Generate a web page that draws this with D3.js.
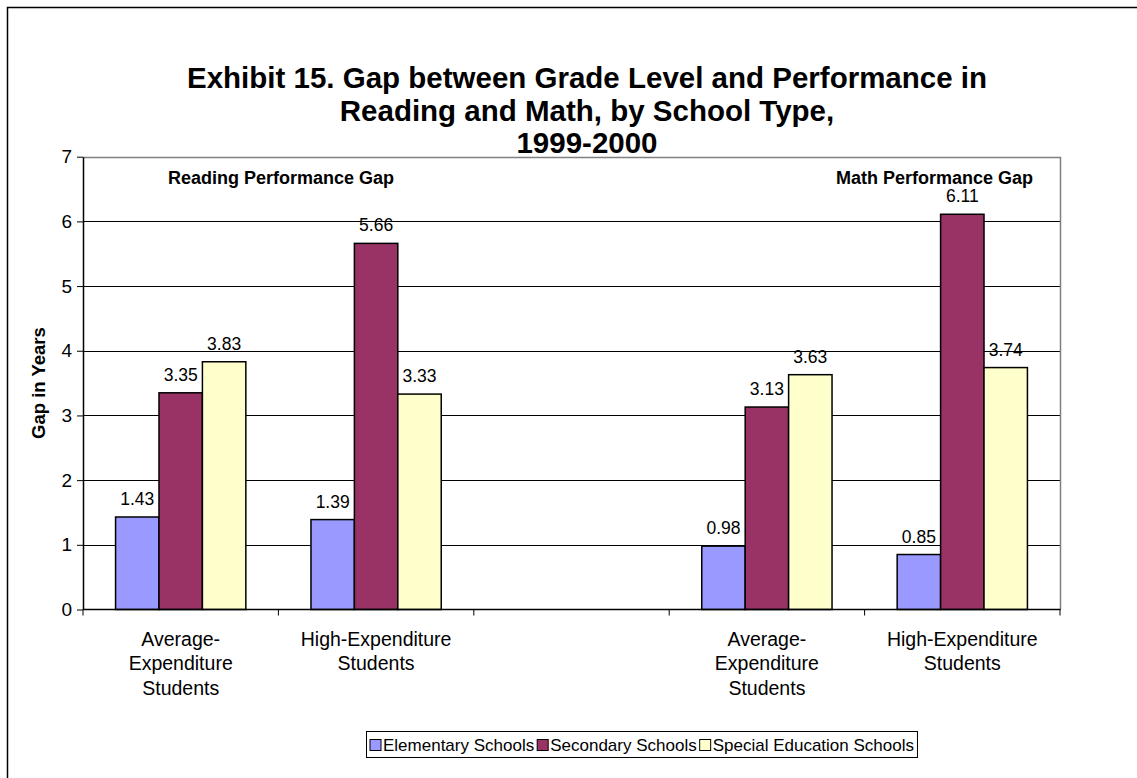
<!DOCTYPE html>
<html>
<head>
<meta charset="utf-8">
<script src="https://cdn.jsdelivr.net/npm/d3@7"></script>
<style>
  body { margin: 0; background: #fff; }
  svg { display: block; font-family: Arial, "Liberation Sans", sans-serif; }
</style>
</head>
<body>
<div id="chart"></div>
<script>
// Podatki, odčitani s slike
const slots = ["s1", "s2", "s3", "s4", "s5"];
const categoryLabels = [
  ["Average-", "Expenditure", "Students"],
  ["High-Expenditure", "Students"],
  [],
  ["Average-", "Expenditure", "Students"],
  ["High-Expenditure", "Students"]
];
const seriesNames = ["Elementary Schools", "Secondary Schools", "Special Education Schools"];
const elementary = [1.43, 1.39, null, 0.98, 0.85];
const secondary = [3.35, 5.66, null, 3.13, 6.11];
const special = [3.83, 3.33, null, 3.63, 3.74];
const yTicks = [0, 1, 2, 3, 4, 5, 6, 7];
const panelLabels = ["Reading Performance Gap", "Math Performance Gap"];
const titleLines = [
  "Exhibit 15. Gap between Grade Level and Performance in",
  "Reading and Math, by School Type,",
  "1999-2000"
];

const colors = ["#9999FF", "#993366", "#FFFFCC"];
const seriesValues = [elementary, secondary, special];

const width = 1137, height = 778;
const plot = { left: 83, right: 1060, top: 156.7, bottom: 609.5 };

const svg = d3.select("#chart").append("svg")
  .attr("width", width).attr("height", height);

// okvir grafikona
svg.append("rect")
  .attr("x", 7.5).attr("y", 7.5)
  .attr("width", width + 20).attr("height", height + 20)
  .attr("fill", "#fff").attr("stroke", "#000").attr("stroke-width", 1.5);

const x = d3.scaleBand().domain(slots).range([plot.left, plot.right]);
const x1 = d3.scaleBand().domain(seriesNames).range([0, x.bandwidth()]).paddingOuter(0.75);
const y = d3.scaleLinear().domain([0, 7]).range([plot.bottom, plot.top]);

// mreža
svg.append("g").selectAll("line")
  .data(yTicks.filter(t => t > 0 && t < 7))
  .join("line")
  .attr("x1", plot.left).attr("x2", plot.right)
  .attr("y1", d => Math.round(y(d)) + 0.5).attr("y2", d => Math.round(y(d)) + 0.5)
  .attr("stroke", "#000").attr("stroke-width", 1);

// zgornji in desni rob
svg.append("path")
  .attr("d", `M${plot.left},${Math.round(y(7)) + 0.5}H${plot.right + 0.5}V${plot.bottom}`)
  .attr("fill", "none").attr("stroke", "#808080").attr("stroke-width", 1.5);

// stolpci
const rows = slots.map((s, i) => ({ slot: s, i }));
const groups = svg.append("g").selectAll("g")
  .data(rows).join("g")
  .attr("transform", d => `translate(${x(d.slot)},0)`);

const cells = d => seriesNames.map((n, k) => ({ name: n, k, v: seriesValues[k][d.i] })).filter(e => e.v != null);

groups.selectAll("rect")
  .data(cells)
  .join("rect")
  .attr("x", e => x1(e.name))
  .attr("width", x1.bandwidth())
  .attr("y", e => y(e.v))
  .attr("height", e => y(0) - y(e.v))
  .attr("fill", e => colors[e.k])
  .attr("stroke", "#000").attr("stroke-width", 1.5);

groups.selectAll("text.val")
  .data(cells)
  .join("text").attr("class", "val")
  .attr("x", e => x1(e.name) + x1.bandwidth() / 2)
  .attr("y", e => y(e.v) - 12)
  .attr("text-anchor", "middle")
  .attr("font-size", "17.5px")
  .attr("fill", "#000")
  .text(e => e.v.toFixed(2));

// os y
const yAxis = svg.append("g")
  .attr("transform", `translate(${plot.left},0)`)
  .call(d3.axisLeft(y).tickValues(yTicks).tickSize(6).tickSizeOuter(0).tickFormat(d3.format("d")));
yAxis.select(".domain").attr("stroke", "#000").attr("stroke-width", 1.5);
yAxis.selectAll(".tick line").attr("stroke", "#000");
yAxis.selectAll(".tick text")
  .attr("font-size", "19px").attr("font-family", "Arial, 'Liberation Sans', sans-serif")
  .attr("fill", "#000").attr("x", -11);

// os x
svg.append("line")
  .attr("x1", plot.left).attr("x2", plot.right + 0.5)
  .attr("y1", plot.bottom).attr("y2", plot.bottom)
  .attr("stroke", "#000").attr("stroke-width", 1.5);
svg.append("g").selectAll("line")
  .data(slots.concat(["end"]))
  .join("line")
  .attr("x1", d => d === "end" ? plot.right : x(d))
  .attr("x2", d => d === "end" ? plot.right : x(d))
  .attr("y1", plot.bottom).attr("y2", plot.bottom + 6)
  .attr("stroke", "#000").attr("stroke-width", 1);

svg.append("g").selectAll("text")
  .data(rows).join("text")
  .attr("text-anchor", "middle")
  .attr("font-size", "19.5px")
  .attr("fill", "#000")
  .each(function (d) {
    const t = d3.select(this);
    categoryLabels[d.i].forEach((line, j) => {
      t.append("tspan")
        .attr("x", x(d.slot) + x.bandwidth() / 2)
        .attr("y", 646 + j * 24.3)
        .text(line);
    });
  });

// naslov osi y
svg.append("text")
  .attr("transform", `translate(45,${(plot.top + plot.bottom) / 2}) rotate(-90)`)
  .attr("text-anchor", "middle")
  .attr("font-size", "18.5px").attr("font-weight", "bold")
  .text("Gap in Years");

// naslov
svg.append("text")
  .attr("text-anchor", "middle")
  .attr("font-size", "29.5px").attr("font-weight", "bold")
  .selectAll("tspan").data(titleLines).join("tspan")
  .attr("x", 587).attr("y", (d, i) => 88 + i * 32.5)
  .text(d => d);

// oznake panelov
svg.append("text")
  .attr("x", 168).attr("y", 184)
  .attr("font-size", "18px").attr("font-weight", "bold")
  .text(panelLabels[0]);
svg.append("text")
  .attr("x", 1033).attr("y", 184)
  .attr("text-anchor", "end")
  .attr("font-size", "18px").attr("font-weight", "bold")
  .text(panelLabels[1]);

// legenda
const legend = svg.append("g");
const legendBox = legend.append("rect")
  .attr("y", 731.5).attr("height", 26)
  .attr("fill", "#fff").attr("stroke", "#000").attr("stroke-width", 1);
let lx = 370;
seriesNames.forEach((n, k) => {
  legend.append("rect")
    .attr("x", lx).attr("y", 739.5).attr("width", 11).attr("height", 11)
    .attr("fill", colors[k]).attr("stroke", "#000").attr("stroke-width", 1);
  const t = legend.append("text")
    .attr("x", lx + 13).attr("y", 751)
    .attr("font-size", "17px")
    .text(n);
  lx += 13 + t.node().getComputedTextLength() + 3;
});
legendBox.attr("x", 366.5).attr("width", lx - 366);
</script>
</body>
</html>
